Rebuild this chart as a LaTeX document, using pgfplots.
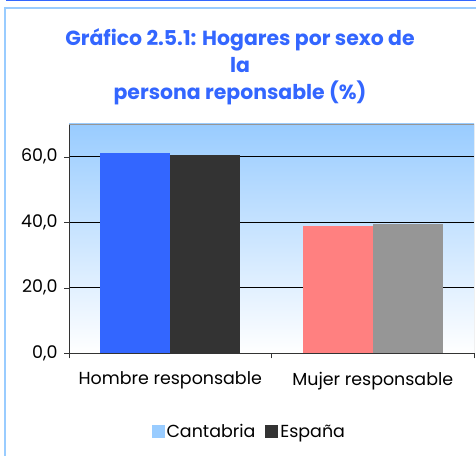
\documentclass[border=0pt]{standalone}
\usepackage{fontspec}
\setmainfont{Poppins}
\usepackage{pgfplots}
\pgfplotsset{compat=1.18}
\definecolor{tblue}{HTML}{3366FF}
\definecolor{lblue}{HTML}{99CCFF}
\definecolor{dgray}{HTML}{333333}
\definecolor{pink}{HTML}{FF8080}
\definecolor{mgray}{HTML}{969696}
\begin{document}
\begin{tikzpicture}[x=1bp,y=1bp]
\useasboundingbox (0,0) rectangle (476,456);
\fill[white] (0,0) rectangle (476,456);
\draw[tblue, line width=1.5bp] (6,455.3) -- (476,455.3);
\draw[lblue, line width=2bp] (5,-5) -- (5,447.5) -- (480,447.5);
\node[tblue, font=\fontsize{20.5}{27}\selectfont\bfseries, align=center] at (240,389)
  {Gráfico 2.5.1: Hogares por sexo de\\la\\persona reponsable (\%)};
\begin{axis}[
  at={(69bp,102.7bp)}, anchor=south west,
  scale only axis, width=405bp, height=229.3bp,
  xmin=-0.5, xmax=1.5, ymin=0, ymax=70,
  axis x line*=bottom, axis y line*=left,
  axis line style={draw=dgray},
  axis background/.style={top color=lblue, bottom color=white},
  ytick={0,20,40,60},
  ymajorgrids, grid style={black, line width=0.6bp},
  tick align=outside, major tick length=5bp,
  tick style={dgray},
  xtick={0,1}, xticklabels={Hombre responsable, Mujer responsable},
  x tick style={draw=none},
  extra x ticks={-0.5,0.5,1.5}, extra x tick labels={},
  extra x tick style={x tick style={draw=dgray}, major tick length=5bp},
  ticklabel style={font=\fontsize{17.5}{19}\selectfont, text=black},
  xticklabel style={yshift=-10bp},
  yticklabel style={xshift=-3bp},
  /pgf/number format/.cd, fixed, fixed zerofill, precision=1, use comma, assume math mode=true,
  /pgfplots/.cd,
  ybar, bar width=70bp,
  legend style={at={(0.445,-0.343)}, anchor=center, draw=none, fill=none,
    font=\fontsize{17.5}{19}\selectfont, legend columns=2,
    /tikz/every even column/.append style={column sep=8bp}},
  legend image code/.code={\fill[#1] (0bp,-6.5bp) rectangle (13bp,6.5bp);},
]
\addlegendimage{fill=lblue, draw=none}
\addlegendentry{Cantabria}
\addlegendimage{fill=dgray, draw=none}
\addlegendentry{España}
\addplot[fill=tblue, draw=none, bar shift=-35bp, forget plot] coordinates {(0,61.0)};
\addplot[fill=dgray, draw=none, bar shift=35bp, forget plot] coordinates {(0,60.4)};
\addplot[fill=pink, draw=none, bar shift=-35bp, forget plot] coordinates {(1,39.0)};
\addplot[fill=mgray, draw=none, bar shift=35bp, forget plot] coordinates {(1,39.6)};
\draw[mgray] (rel axis cs:0,1) -- (rel axis cs:1,1) -- (rel axis cs:1,0);
\end{axis}
\end{tikzpicture}
\end{document}
